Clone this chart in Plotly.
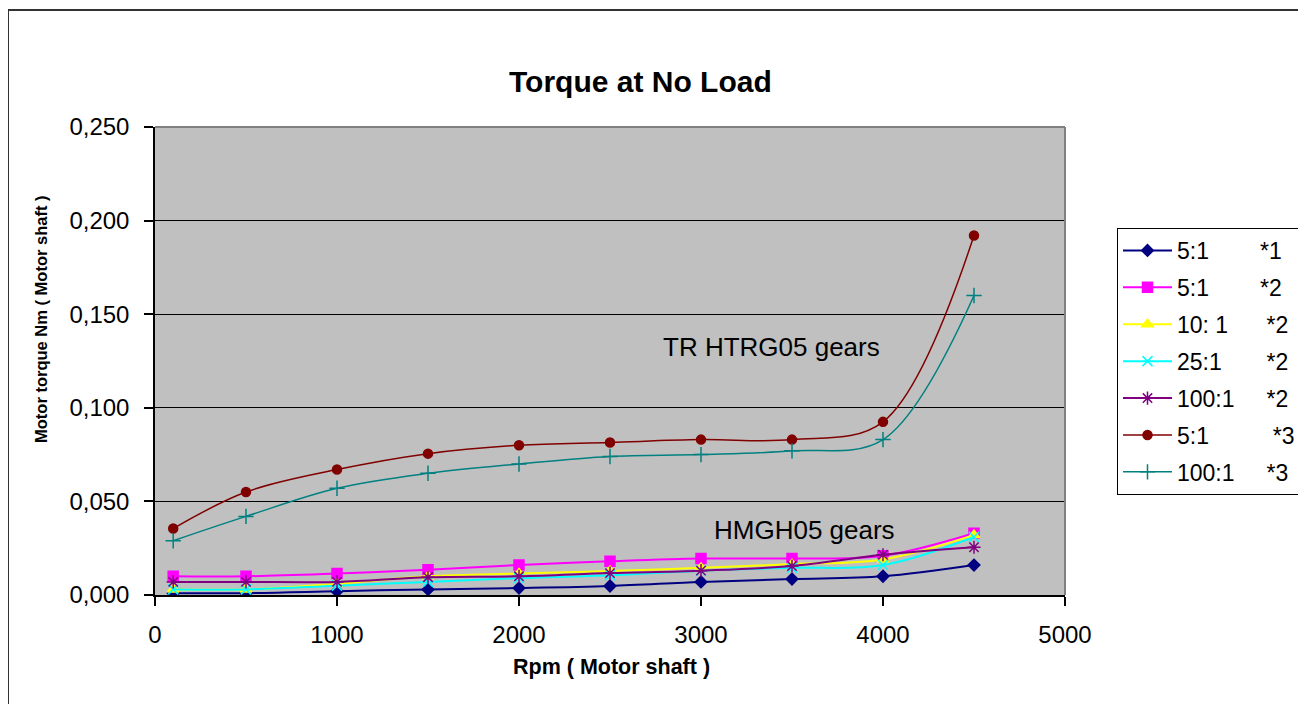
import plotly.graph_objects as go

# ---------------- data ----------------
rpm = [100, 500, 1000, 1500, 2000, 2500, 3000, 3500, 4000, 4500]

ratio_labels = ["5:1", "5:1", "10: 1", "25:1", "100:1", "5:1", "100:1"]
note_labels = ["*1", "*2", "*2", "*2", "*2", "*3", "*3"]

torque_5_1_n1 = [0.001, 0.001, 0.002, 0.003, 0.0037, 0.0048, 0.007, 0.0085, 0.010, 0.016]
torque_5_1_n2 = [0.010, 0.010, 0.0115, 0.0135, 0.016, 0.018, 0.0195, 0.0195, 0.021, 0.033]
torque_10_1_n2 = [0.003, 0.003, 0.006, 0.010, 0.0115, 0.0128, 0.0145, 0.0165, 0.019, 0.032]
torque_25_1_n2 = [0.003, 0.003, 0.005, 0.007, 0.009, 0.0105, 0.013, 0.0145, 0.016, 0.031]
torque_100_1_n2 = [0.007, 0.007, 0.007, 0.0095, 0.010, 0.0117, 0.013, 0.0155, 0.0215, 0.0255]
torque_5_1_n3 = [0.0355, 0.055, 0.067, 0.0755, 0.080, 0.0815, 0.083, 0.083, 0.0925, 0.192]
torque_100_1_n3 = [0.029, 0.042, 0.057, 0.065, 0.070, 0.074, 0.075, 0.077, 0.083, 0.160]

series_values = [torque_5_1_n1, torque_5_1_n2, torque_10_1_n2, torque_25_1_n2,
                 torque_100_1_n2, torque_5_1_n3, torque_100_1_n3]

annotation_texts = ["TR HTRG05 gears", "HMGH05 gears"]
annotation_pos = [(3385, 0.1325), (3570, 0.0347)]

# ---------------- style ----------------
colors = ["#000080", "#FF00FF", "#FFFF00", "#00FFFF", "#800080", "#800000", "#008080"]
symbols = ["diamond", "square", "triangle-up", "x-thin-open", "asterisk-open", "circle", "cross-thin-open"]
msizes = [9, 10, 10, 10, 11, 9, 11]
lwidths = [2, 2, 2, 2, 2, 1.5, 1.5]
note_cols = [86, 86, 88, 88, 90, 93, 90]

FONT = "Arial, Liberation Sans, sans-serif"
LEG_FS = 23
OFF = 8  # page body margin


def text_w(s, fs):
    w = {":": 0.278, " ": 0.278, "\u00a0": 0.278}
    return sum(w.get(c, 0.556) for c in s) * fs


def pad_name(ratio, note, target):
    n = max(1, round((target - text_w(ratio, LEG_FS)) / (0.278 * LEG_FS)))
    return ratio + "\u00a0" * n + note


fig = go.Figure()
for i, vals in enumerate(series_values):
    fig.add_trace(go.Scatter(
        x=rpm, y=vals,
        mode="lines+markers",
        name=pad_name(ratio_labels[i], note_labels[i], note_cols[i]),
        legendgroup=str(i),
        line=dict(color=colors[i], width=lwidths[i], shape="spline", smoothing=1),
        marker=dict(symbol=symbols[i], color=colors[i], size=msizes[i],
                    line=dict(color=colors[i], width=1.5)),
    ))

W, H = 1306 - OFF, 704 - OFF
L, R, T, B = 155 - OFF, 1065 - OFF, 127 - OFF, 595 - OFF
pw, ph = R - L, B - T


def px_x(x):
    return (x - OFF - L) / pw


def px_y(y):
    return (B - (y - OFF)) / ph


annotations = [
    dict(text="<b>Torque at No Load</b>", x=px_x(640), y=px_y(82), xref="paper", yref="paper",
         showarrow=False, font=dict(size=30, color="black", family=FONT), xanchor="center", yanchor="middle"),
    dict(text="<b>Rpm ( Motor shaft )</b>", x=px_x(611), y=px_y(667), xref="paper", yref="paper",
         showarrow=False, font=dict(size=21.5, color="black", family=FONT), xanchor="center", yanchor="middle"),
    dict(text="<b>Motor torque Nm ( Motor shaft )</b>", x=px_x(41), y=px_y(320), xref="paper", yref="paper",
         showarrow=False, textangle=-90, font=dict(size=16.5, color="black", family=FONT),
         xanchor="center", yanchor="middle"),
]
for t, (ax, ay) in zip(annotation_texts, annotation_pos):
    annotations.append(dict(text=t, x=ax, y=ay, xref="x", yref="y", showarrow=False,
                            font=dict(size=26, color="black", family=FONT),
                            xanchor="center", yanchor="middle"))

shapes = [
    dict(type="line", xref="paper", yref="paper", x0=0, x1=1, y0=1, y1=1,
         line=dict(color="#808080", width=2), layer="above"),
    dict(type="line", xref="paper", yref="paper", x0=1, x1=1, y0=0, y1=1,
         line=dict(color="#808080", width=2), layer="above"),
    dict(type="rect", xref="paper", yref="paper",
         x0=px_x(8), x1=px_x(1330), y0=px_y(730), y1=px_y(10),
         line=dict(color="#333333", width=2), fillcolor="rgba(0,0,0,0)", layer="below"),
]

fig.update_layout(
    width=W, height=H,
    margin=dict(l=L, r=W - R, t=T, b=H - B, pad=0, autoexpand=False),
    paper_bgcolor="white",
    plot_bgcolor="#C0C0C0",
    separators=", ",
    font=dict(family=FONT, size=24, color="black"),
    showlegend=True,
    legend=dict(x=px_x(1117), y=px_y(228), xanchor="left", yanchor="top",
                bgcolor="white", bordercolor="black", borderwidth=1,
                font=dict(size=LEG_FS, family=FONT, color="black"),
                traceorder="grouped", tracegroupgap=4, itemwidth=49),
    annotations=annotations,
    shapes=shapes,
    xaxis=dict(range=[0, 5000], dtick=1000, tick0=0, tickformat="d",
               showgrid=False, zeroline=False, showline=True, linecolor="black", linewidth=1.5,
               ticks="outside", ticklen=9, tickcolor="black", tickwidth=1.5,
               tickfont=dict(size=24, family=FONT, color="black"), ticklabelstandoff=8),
    yaxis=dict(range=[0, 0.25], dtick=0.05, tick0=0, tickformat=".3f",
               showgrid=True, gridcolor="black", gridwidth=1, zeroline=False,
               showline=True, linecolor="black", linewidth=1.5,
               ticks="outside", ticklen=9, tickcolor="black", tickwidth=1.5,
               tickfont=dict(size=24, family=FONT, color="black"), ticklabelstandoff=10),
)

fig.write_html("out.html")
